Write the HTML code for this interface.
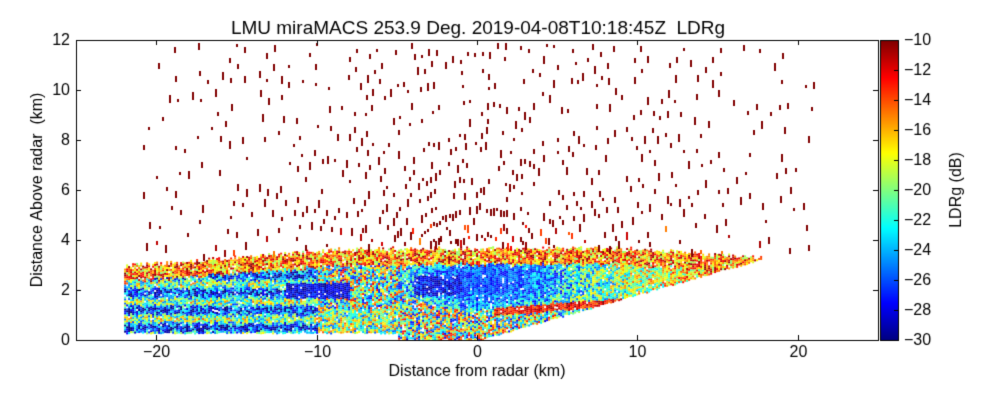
<!DOCTYPE html>
<html><head><meta charset="utf-8"><style>
body{margin:0;background:#fff;width:1000px;height:400px;overflow:hidden;font-family:"Liberation Sans",sans-serif}
#c{position:absolute;left:0;top:0}
</style></head><body>
<canvas id="c" width="1000" height="400"></canvas>
<script>
const xTicks=[-20,-10,0,10,20];
const yTicks=[0,2,4,6,8,10,12];
const cbTicks=[-10,-12,-14,-16,-18,-20,-22,-24,-26,-28,-30];
const title="LMU miraMACS 253.9 Deg. 2019-04-08T10:18:45Z  LDRg";
const cv=document.getElementById('c');const g=cv.getContext('2d');
const L=76,R=878,T=40,B=340;
const sx=x=>L+(x+25)/50*(R-L), sy=y=>B-y/12*(B-T);
function jet(t){t=Math.max(0,Math.min(1,t));
 const f=v=>Math.round(255*Math.max(0,Math.min(1,v)));
 return `rgb(${f(1.5-Math.abs(4*t-3))},${f(1.5-Math.abs(4*t-2))},${f(1.5-Math.abs(4*t-1))})`;}
let seed=12345;
function rnd(){seed|=0;seed=seed+0x6D2B79F5|0;let t=Math.imul(seed^seed>>>15,1|seed);t=t+Math.imul(t^t>>>7,61|t)^t;return((t^t>>>14)>>>0)/4294967296;}
function topEdge(x){if(x<-8)return 3.05+(x+22)/14*0.7;if(x<10)return 3.75;return 3.75-(x-10)/8*0.4;}
function botEdge(x){if(x>0)return x*3.3/18;if(x<-5)return 0.3;return 0.05;}
// field
for(let px=sx(-22);px<sx(18);px+=2){
 const x=(px-L)/(R-L)*50-25;
 const colTop=topEdge(x)-rnd()*0.2;
 for(let py=sy(colTop);py<sy(botEdge(x));py+=2){
  const y=(B-py)/(B-T)*12;
  let t;
  const d=((x-0.5)/5.5)**2+((y-2.4)/1.2)**2;
  if(x<-10) t=0.32+0.2*Math.sin(y*9)+(rnd()-0.5)*0.55;
  else if(d<1) t=0.1+rnd()*0.35*(0.5+d);
  else if(x>5) t=0.35+(x-5)/13*0.5+(rnd()-0.5)*0.5;
  else t=0.5+(rnd()-0.5)*0.8;
  if(colTop-y<0.6) t=0.5+rnd()*0.5;
  if(x>1&&x<9&&Math.abs(y-(1.1+x*0.05))<0.15) t=0.75+rnd()*0.25;
  if(x>-4&&x<-1&&y>1.8&&y<2.6) t=rnd()*0.25;
  if(x>-12&&x<-8&&y>1.7&&y<2.3) t=rnd()*0.2;
  if(x>-10&&x<-5&&y<1.3) t=0.2+rnd()*0.6;
  if(rnd()<0.04) continue;
  g.fillStyle=jet(t);g.fillRect(px,py,2,2);
 }
}
// speckles
for(let a=8;a<=172;a+=2.3){
 const ar=a*Math.PI/180;
 for(let r=3;r<24;r+=0.6){
  if(rnd()<0.5)continue;
  const x=r*Math.cos(ar),y=r*Math.sin(ar)+(rnd()-0.5)*0.3;
  if(y>11.9||Math.abs(x)>21||y<topEdge(x))continue;
  const near=y-topEdge(x)<0.9;
  g.fillStyle=near&&rnd()<0.5?jet(0.75+rnd()*0.25):'#800000';
  const h=3+Math.floor(rnd()*6);
  const X=Math.round(sx(x)),Y=Math.round(sy(y));
  g.fillRect(X,Y,2,h);
 }
}
// axes
g.fillStyle='#000';g.strokeStyle='#000';g.lineWidth=1;g.strokeRect(L+0.5,T+0.5,R-L,B-T);
g.font='16px "Liberation Sans",sans-serif';
g.textAlign='center';g.textBaseline='top';
xTicks.forEach(v=>{const p=Math.round(sx(v))+0.5;g.beginPath();g.moveTo(p,B);g.lineTo(p,B-5);g.moveTo(p,T);g.lineTo(p,T+5);g.stroke();g.fillText(v<0?'\u2212'+(-v):v,p,345);});
g.textAlign='right';g.textBaseline='middle';
yTicks.forEach(v=>{const p=Math.round(sy(v))+0.5;g.beginPath();g.moveTo(L,p);g.lineTo(L+5,p);g.moveTo(R,p);g.lineTo(R-5,p);g.stroke();g.fillText(v,70,p);});
g.textAlign='center';g.textBaseline='alphabetic';
g.fillText('Distance from radar (km)',477,376);
g.font='19px "Liberation Sans",sans-serif';g.fillText(title,478,34);
g.save();g.translate(42,190);g.rotate(-Math.PI/2);g.font='16px "Liberation Sans",sans-serif';g.fillText('Distance Above radar  (km)',0,0);g.restore();
// colorbar
const CL=880,CR=898;
for(let py=T;py<B;py++){g.fillStyle=jet(1-(py-T)/(B-T));g.fillRect(CL,py,CR-CL,1);}
g.fillStyle='#000';g.strokeStyle='#000';
g.strokeRect(CL+0.5,T+0.5,CR-CL,B-T);
g.textAlign='left';g.textBaseline='middle';g.font='16px "Liberation Sans",sans-serif';
cbTicks.forEach(v=>{const p=Math.round(T+(-10-v)/20*(B-T))+0.5;g.beginPath();g.moveTo(CR-4,p);g.lineTo(CR,p);g.stroke();g.fillText('\u2212'+(-v),904,p);});
g.save();g.translate(957,190);g.rotate(-Math.PI/2);g.textAlign='center';g.fillText('LDRg (dB)',0,0);g.restore();
</script>
</body></html>
